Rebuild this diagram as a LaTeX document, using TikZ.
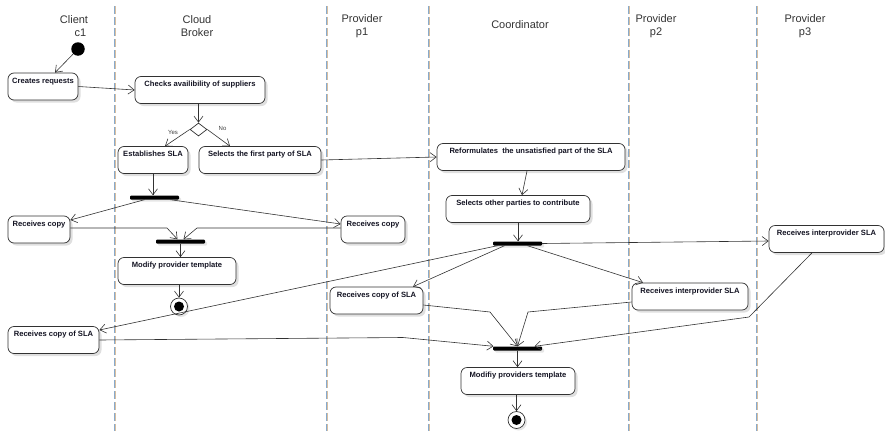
\documentclass[tikz,border=0pt]{standalone}
\usepackage{fontspec}
\setmainfont{Liberation Sans}
\usetikzlibrary{arrows.meta,shapes.geometric,shadows}

\definecolor{lane}{RGB}{135,170,205}
\definecolor{lanetan}{RGB}{215,190,160}
\definecolor{edge}{RGB}{50,50,50}
\definecolor{ink}{RGB}{20,20,35}

\tikzset{
    activity/.style={draw=edge, line width=0.7pt, rounded corners=6pt, fill=white,
        drop shadow={shadow xshift=2.5pt, shadow yshift=-2.5pt, opacity=0.25},
        font=\fontsize{7.6}{8.5}\selectfont\bfseries, text=ink,
        inner sep=3pt, text height=7pt, text depth=14pt},
    bar/.style={fill=black, rounded corners=1pt, minimum width=49pt, minimum height=4pt,
        inner sep=0pt, drop shadow={shadow xshift=2pt, shadow yshift=-2pt, opacity=0.2}},
    decision/.style={diamond, draw=edge, line width=0.7pt, fill=white, inner sep=0pt,
        minimum width=17pt, minimum height=13pt},
    initial/.style={circle, fill=black, minimum size=13.5pt, inner sep=0pt},
    final/.style={circle, draw=edge, line width=0.7pt, fill=white, minimum size=17pt, inner sep=0pt,
        drop shadow={shadow xshift=2pt, shadow yshift=-2pt, opacity=0.2},
        path picture={\fill[black] (path picture bounding box.center) circle (5pt);}},
    flow/.style={draw=edge, line width=0.6pt, -{Straight Barb[length=6pt,width=9pt]}},
    guard/.style={font=\fontsize{6}{7}\selectfont, text=black!75},
    lanehead/.style={font=\fontsize{11}{12.5}\selectfont, text=black!80, align=center},
}

\begin{document}
\begin{tikzpicture}[x=1pt, y=-1pt]
    \useasboundingbox (0,0) rectangle (885,431);

    % Draw the swimlanes
    \foreach \x in {114,326,428,628,756} {
        \draw[lanetan, line width=0.6pt, dash pattern=on 8pt off 3pt] (\x+1,6) -- (\x+1,431);
        \draw[lane, line width=0.6pt, dash pattern=on 8pt off 3pt] (\x,6) -- (\x,431);
    }

    % Lane headers
    \node[lanehead] (hclient) at (74,26) {Client\\\hspace*{13pt}c1};
    \node[lanehead] (hbroker) at (197,26) {Cloud\\Broker};
    \node[lanehead] (hpone) at (362,26) {Provider\\p1};
    \node[lanehead] (hcoord) at (520,25) {Coordinator};
    \node[lanehead] (hptwo) at (656,26) {Provider\\p2};
    \node[lanehead] (hpthree) at (805,26) {Provider\\p3};

    % Activities
    \node[initial] (start) at (78,49) {};
    \node[activity, minimum width=70] (creq) at (43,86.5) {Creates requests};
    \node[activity, minimum width=130] (chk) at (200,90) {Checks availibility of suppliers};
    \node[decision] (dec) at (198.5,129.5) {};
    \node[activity, minimum width=70] (estab) at (153,160) {Establishes SLA};
    \node[activity, minimum width=122] (selfirst) at (260,160) {Selects the first party of SLA};
    \node[bar] (fork1) at (154.5,197.5) {};
    \node[activity, minimum width=62] (rcpc) at (39,229.5) {Receives copy};
    \node[activity, minimum width=64] (rcpp1) at (373,229.5) {Receives copy};
    \node[bar] (join2) at (180.5,241.5) {};
    \node[activity, minimum width=118] (modprov) at (177,271) {Modify provider template};
    \node[final] (end1) at (179,306.5) {};

    \node[activity, minimum width=188] (reform) at (531,157) {Reformulates\ \ the unsatisfied part of the SLA};
    \node[activity, minimum width=144] (selother) at (518,209) {Selects other parties to contribute};
    \node[bar] (fork3) at (517.5,243.5) {};
    \node[activity, minimum width=115] (rinter3) at (826.5,239) {Receives interprovider SLA};
    \node[activity, minimum width=93] (rslap1) at (376.5,300.5) {Receives copy of SLA};
    \node[activity, minimum width=116] (rinter2) at (690,296.5) {Receives interprovider SLA};
    \node[activity, minimum width=91] (rslac) at (53.5,340) {Receives copy of SLA};
    \node[bar] (join4) at (517.5,348.5) {};
    \node[activity, minimum width=114] (modprovs) at (518,381) {Modifiy providers template};
    \node[final] (end2) at (516.5,420) {};

    % Guards
    \node[guard] (gyes) at (173,132) {Yes};
    \node[guard] (gno) at (222.5,128) {No};

    % Control flows
    \draw[flow] (start) -- ([xshift=12pt]creq.north);
    \draw[flow] (creq.east) -- (chk.west);
    \draw[flow] (chk.south -| dec.north) -- (dec.north);
    \draw[flow] (dec.west) -- ([xshift=12pt]estab.north);
    \draw[flow] (dec.east) -- ([xshift=-30pt]selfirst.north);
    \draw[flow] (estab.south) -- (estab.south |- fork1.north);
    \draw[flow] (selfirst.east) -- (reform.west);
    \draw[flow] ([xshift=-10pt]fork1.south) -- ([yshift=9.5pt]rcpc.east);
    \draw[flow] ([xshift=16pt]fork1.south) -- ([yshift=5.5pt]rcpp1.west);
    \draw[flow] ([yshift=1.5pt]rcpc.east) -- (167,228) -- ([xshift=-3pt]join2.north);
    \draw[flow] ([yshift=1.5pt]rcpp1.west) -- (197,228) -- ([xshift=3pt]join2.north);
    \draw[flow] (join2.south) -- (join2.south |- modprov.north);
    \draw[flow] (end1 |- modprov.south) -- (end1.north);

    \draw[flow] ([xshift=-4pt]reform.south) -- ([xshift=4pt]selother.north);
    \draw[flow] (selother.south) -- (selother.south |- fork3.north);
    \draw[flow] (fork3.east) -- ([yshift=-2pt]rinter3.west);
    \draw[flow] ([xshift=-13pt]fork3.south) -- ([xshift=36.5pt]rslap1.north);
    \draw[flow] ([xshift=-20pt]fork3.south) -- ([yshift=10pt]rslac.east);
    \draw[flow] ([xshift=10pt]fork3.south) -- ([xshift=-47pt]rinter2.north);
    \draw[flow] ([yshift=-4.5pt]rslap1.east) -- (490,312) -- (join4.north);
    \draw[flow] ([yshift=-5.5pt]rinter2.west) -- (528,312) -- (join4.north);
    \draw[flow] ([xshift=-14.5pt]rinter3.south) -- (749,317) -- ([xshift=17pt]join4.north);
    \draw[flow] (rslac.east) -- (403,337.5) -- ([xshift=-24pt]join4.north);
    \draw[flow] (join4.south) -- (join4.south |- modprovs.north);
    \draw[flow] (end2 |- modprovs.south) -- (end2.north);
\end{tikzpicture}
\end{document}
